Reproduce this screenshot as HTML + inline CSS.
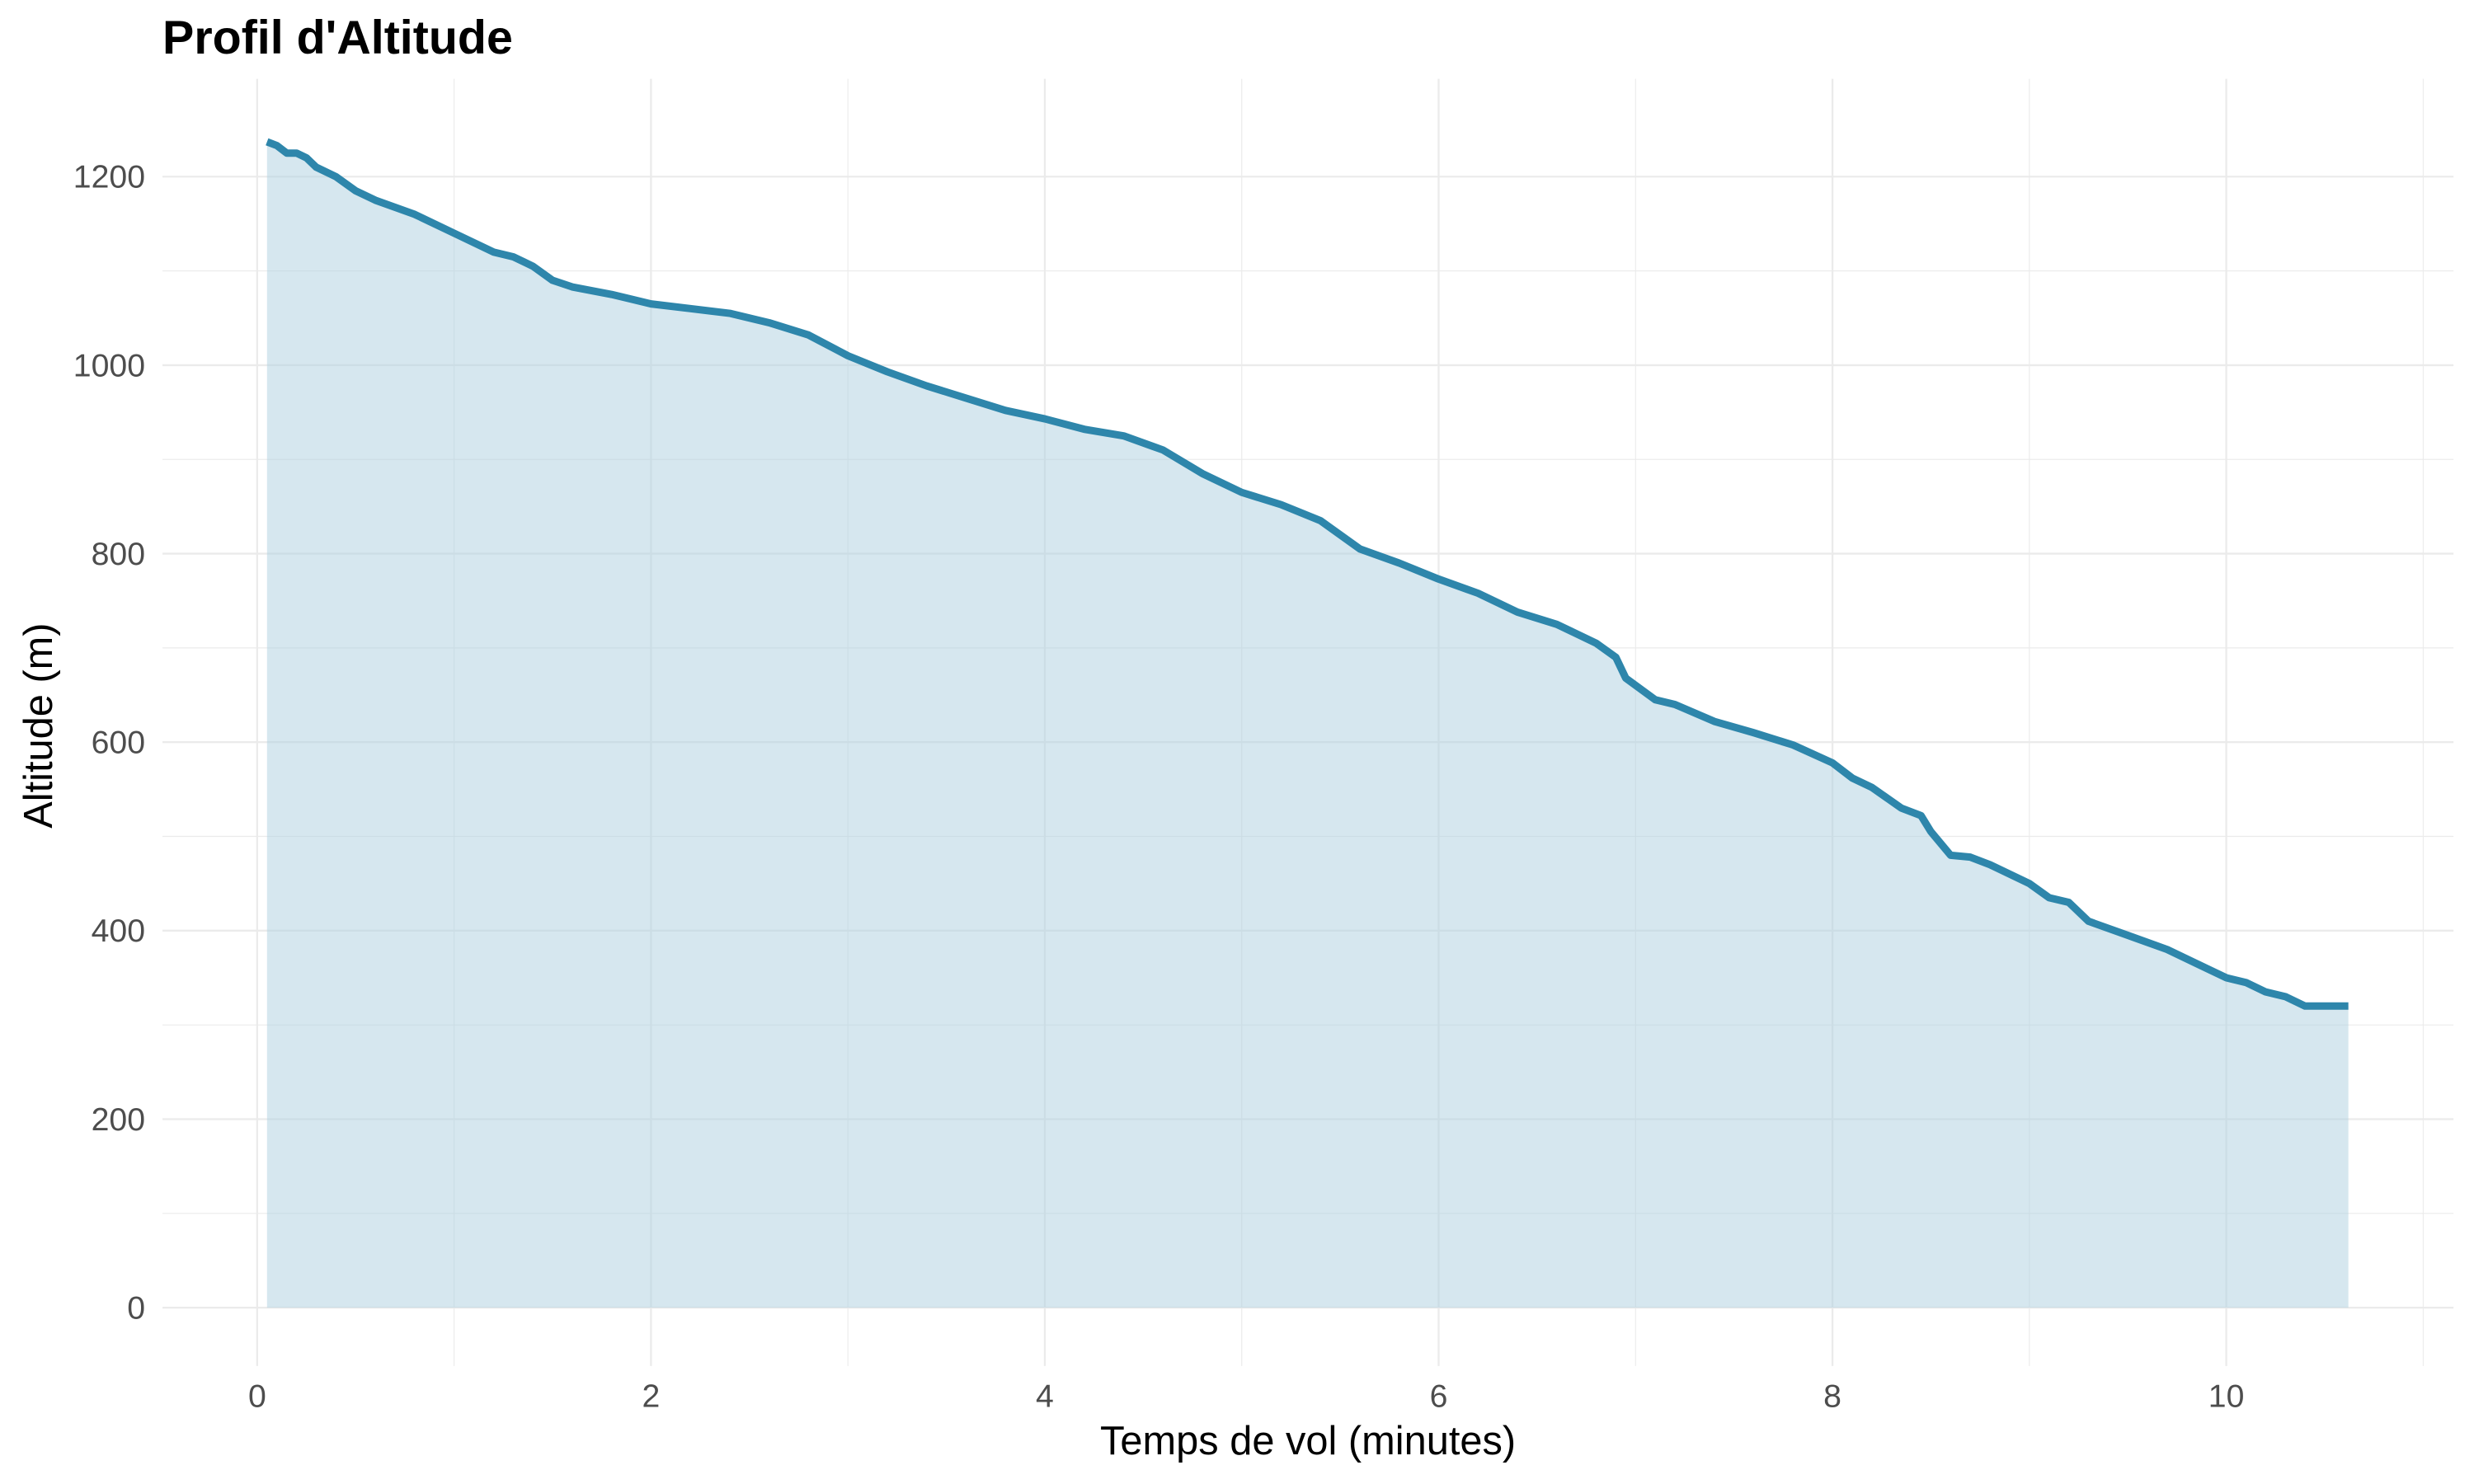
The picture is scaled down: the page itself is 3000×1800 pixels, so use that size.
<!DOCTYPE html>
<html><head><meta charset="utf-8"><style>
html,body{margin:0;padding:0;background:#fff;}
svg{display:block;}
text{font-family:"Liberation Sans",sans-serif;}
</style></head><body>
<svg width="3000" height="1800" viewBox="0 0 1568 940.8" preserveAspectRatio="none" xmlns="http://www.w3.org/2000/svg">
<rect x="0" y="0" width="1568" height="940.8" fill="#fff"/>
<g stroke="#ebebeb" stroke-width="0.6">
<line x1="103" x2="1555" y1="769.25" y2="769.25"/>
<line x1="103" x2="1555" y1="649.75" y2="649.75"/>
<line x1="103" x2="1555" y1="530.25" y2="530.25"/>
<line x1="103" x2="1555" y1="410.75" y2="410.75"/>
<line x1="103" x2="1555" y1="291.25" y2="291.25"/>
<line x1="103" x2="1555" y1="171.75" y2="171.75"/>
<line x1="287.8" x2="287.8" y1="50" y2="866"/>
<line x1="537.4" x2="537.4" y1="50" y2="866"/>
<line x1="787" x2="787" y1="50" y2="866"/>
<line x1="1036.6" x2="1036.6" y1="50" y2="866"/>
<line x1="1286.2" x2="1286.2" y1="50" y2="866"/>
<line x1="1535.8" x2="1535.8" y1="50" y2="866"/>
</g>
<g stroke="#ebebeb" stroke-width="1.2">
<line x1="103" x2="1555" y1="829" y2="829"/>
<line x1="103" x2="1555" y1="709.5" y2="709.5"/>
<line x1="103" x2="1555" y1="590" y2="590"/>
<line x1="103" x2="1555" y1="470.5" y2="470.5"/>
<line x1="103" x2="1555" y1="351" y2="351"/>
<line x1="103" x2="1555" y1="231.5" y2="231.5"/>
<line x1="103" x2="1555" y1="112" y2="112"/>
<line x1="163" x2="163" y1="50" y2="866"/>
<line x1="412.6" x2="412.6" y1="50" y2="866"/>
<line x1="662.2" x2="662.2" y1="50" y2="866"/>
<line x1="911.8" x2="911.8" y1="50" y2="866"/>
<line x1="1161.4" x2="1161.4" y1="50" y2="866"/>
<line x1="1411" x2="1411" y1="50" y2="866"/>
</g>
<g transform="translate(163,829) scale(124.8,-0.5975)">
<path fill="#add0e0" fill-opacity="0.5" d="M0.05,0 L0.05,1237 L0.1,1233 L0.15,1225 L0.2,1225 L0.25,1220 L0.3,1210 L0.35,1205 L0.4,1200 L0.5,1185 L0.6,1175 L0.8,1160 L1.0,1140 L1.2,1120 L1.3,1115 L1.4,1105 L1.5,1090 L1.6,1083 L1.8,1075 L2.0,1065 L2.2,1060 L2.4,1055 L2.6,1045 L2.8,1032 L3.0,1010 L3.2,993 L3.4,978 L3.6,965 L3.8,952 L4.0,943 L4.2,932 L4.4,925 L4.6,910 L4.8,885 L5.0,865 L5.2,852 L5.4,835 L5.6,805 L5.8,790 L6.0,773 L6.2,758 L6.4,738 L6.6,725 L6.8,705 L6.9,690 L6.95,668 L7.1,645 L7.2,640 L7.4,622 L7.6,610 L7.8,597 L8.0,578 L8.1,562 L8.2,552 L8.35,530 L8.45,522 L8.5,505 L8.6,480 L8.7,478 L8.8,470 L9.0,450 L9.1,435 L9.2,430 L9.3,410 L9.5,395 L9.7,380 L9.9,360 L10.0,350 L10.1,345 L10.2,335 L10.3,330 L10.4,320 L10.5,320 L10.62,320 L10.62,0 Z"/>
<path fill="none" stroke="#2e86ab" stroke-width="9" vector-effect="non-scaling-stroke" stroke-linejoin="round" d="M0.05,1237 L0.1,1233 L0.15,1225 L0.2,1225 L0.25,1220 L0.3,1210 L0.35,1205 L0.4,1200 L0.5,1185 L0.6,1175 L0.8,1160 L1.0,1140 L1.2,1120 L1.3,1115 L1.4,1105 L1.5,1090 L1.6,1083 L1.8,1075 L2.0,1065 L2.2,1060 L2.4,1055 L2.6,1045 L2.8,1032 L3.0,1010 L3.2,993 L3.4,978 L3.6,965 L3.8,952 L4.0,943 L4.2,932 L4.4,925 L4.6,910 L4.8,885 L5.0,865 L5.2,852 L5.4,835 L5.6,805 L5.8,790 L6.0,773 L6.2,758 L6.4,738 L6.6,725 L6.8,705 L6.9,690 L6.95,668 L7.1,645 L7.2,640 L7.4,622 L7.6,610 L7.8,597 L8.0,578 L8.1,562 L8.2,552 L8.35,530 L8.45,522 L8.5,505 L8.6,480 L8.7,478 L8.8,470 L9.0,450 L9.1,435 L9.2,430 L9.3,410 L9.5,395 L9.7,380 L9.9,360 L10.0,350 L10.1,345 L10.2,335 L10.3,330 L10.4,320 L10.5,320 L10.62,320"/>
</g>
<g fill="#4d4d4d" font-size="20.5" text-anchor="end">
<text x="92" y="836">0</text>
<text x="92" y="716.5">200</text>
<text x="92" y="597">400</text>
<text x="92" y="477.5">600</text>
<text x="92" y="358">800</text>
<text x="92" y="238.5">1000</text>
<text x="92" y="119">1200</text>
</g>
<g fill="#4d4d4d" font-size="20.5" text-anchor="middle">
<text x="163" y="892">0</text>
<text x="412.6" y="892">2</text>
<text x="662.2" y="892">4</text>
<text x="911.8" y="892">6</text>
<text x="1161.4" y="892">8</text>
<text x="1411" y="892">10</text>
</g>
<text x="829" y="922" font-size="25.5" text-anchor="middle" fill="#000">Temps de vol (minutes)</text>
<text transform="translate(33,460) rotate(-90)" font-size="25.5" text-anchor="middle" fill="#000">Altitude (m)</text>
<text x="103" y="34" font-size="30" font-weight="bold" fill="#000">Profil d'Altitude</text>
</svg>
</body></html>
